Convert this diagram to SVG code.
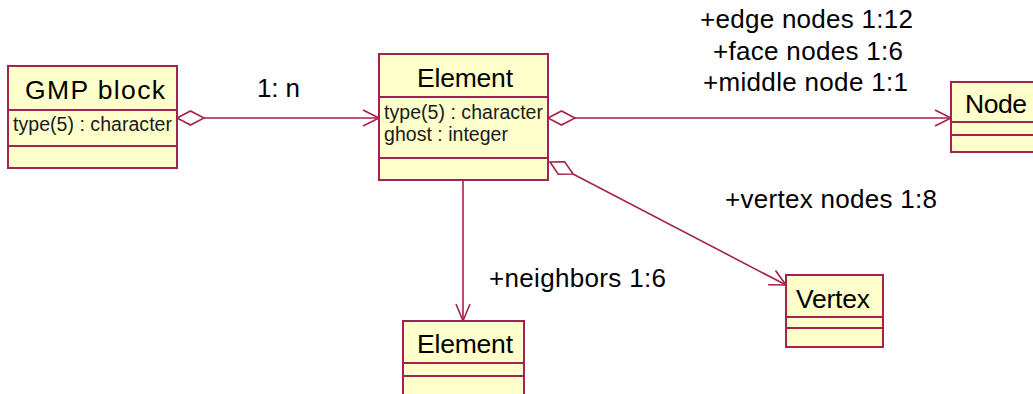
<svg xmlns="http://www.w3.org/2000/svg" width="1033" height="394" viewBox="0 0 1033 394">
  <style>
    .box { fill: #ffffcc; stroke: #a3224f; stroke-width: 2; }
    .div { stroke: #a3224f; stroke-width: 2; fill: none; }
    .conn { stroke: #a3224f; stroke-width: 1.6; fill: none; }
    .agg { stroke: #a3224f; stroke-width: 1.6; fill: #ffffff; }
    .title { font-family: "Liberation Sans", Arial, sans-serif; font-size: 26.5px; fill: #000; }
    .attr { font-family: "Liberation Sans", Arial, sans-serif; font-size: 19.5px; fill: #1a1a1a; }
    .lbl { font-family: "Liberation Sans", Arial, sans-serif; font-size: 26px; fill: #000; }
  </style>
  <rect width="1033" height="394" fill="#ffffff"/>

  <!-- connectors -->
  <g id="connectors">
    <!-- GMP block aggregates Element -->
    <line class="conn" x1="204" y1="118" x2="379" y2="118"/>
    <polygon class="agg" points="177,118 190.5,111 204,118 190.5,125"/>
    <polyline class="conn" points="363,110 379,118 363,126"/>
    <text class="lbl" x="257" y="97" textLength="43">1: n</text>

    <!-- Element aggregates Node -->
    <line class="conn" x1="575" y1="118" x2="951" y2="118"/>
    <polygon class="agg" points="548,118 561.5,111 575,118 561.5,125"/>
    <polyline class="conn" points="935,110 951,118 935,126"/>
    <text class="lbl" x="700" y="28" textLength="213">+edge nodes 1:12</text>
    <text class="lbl" x="713" y="60" textLength="190">+face nodes 1:6</text>
    <text class="lbl" x="703" y="91" textLength="205">+middle node 1:1</text>

    <!-- Element aggregates Vertex -->
    <line class="conn" x1="573" y1="174" x2="786" y2="285"/>
    <polygon class="agg" points="550,162 558.3,174.2 573.1,174 564.7,161.8"/>
    <polyline class="conn" points="775.5,270.5 786,285 768.1,284.7"/>
    <text class="lbl" x="725" y="208" textLength="212">+vertex nodes 1:8</text>

    <!-- Element neighbors -->
    <line class="conn" x1="463" y1="180" x2="463" y2="321"/>
    <polyline class="conn" points="456,304 463,321 470,304"/>
    <text class="lbl" x="489" y="287" textLength="177">+neighbors 1:6</text>
  </g>

  <!-- GMP block class -->
  <g id="gmp-block">
    <rect class="box" x="8" y="66" width="169" height="102"/>
    <line class="div" x1="8" y1="110" x2="177" y2="110"/>
    <line class="div" x1="8" y1="146" x2="177" y2="146"/>
    <text class="title" x="25" y="99" font-size="28" textLength="140">GMP block</text>
    <text class="attr" x="13" y="131" textLength="159">type(5) : character</text>
  </g>

  <!-- Element class -->
  <g id="element">
    <rect class="box" x="379" y="54" width="169" height="126"/>
    <line class="div" x1="379" y1="97" x2="548" y2="97"/>
    <line class="div" x1="379" y1="158" x2="548" y2="158"/>
    <text class="title" x="417" y="87" textLength="96">Element</text>
    <text class="attr" x="384" y="119" textLength="159">type(5) : character</text>
    <text class="attr" x="384" y="141" textLength="124">ghost : integer</text>
  </g>

  <!-- Node class -->
  <g id="node">
    <rect class="box" x="951" y="82" width="95" height="70"/>
    <line class="div" x1="951" y1="122" x2="1046" y2="122"/>
    <line class="div" x1="951" y1="135" x2="1046" y2="135"/>
    <text class="title" x="965" y="113" textLength="62">Node</text>
  </g>

  <!-- Element (neighbor) class -->
  <g id="element-neighbor">
    <rect class="box" x="403" y="321" width="121" height="80"/>
    <line class="div" x1="403" y1="363" x2="524" y2="363"/>
    <line class="div" x1="403" y1="376" x2="524" y2="376"/>
    <text class="title" x="417" y="353" textLength="96">Element</text>
  </g>

  <!-- Vertex class -->
  <g id="vertex">
    <rect class="box" x="786" y="275" width="97" height="72"/>
    <line class="div" x1="786" y1="317" x2="883" y2="317"/>
    <line class="div" x1="786" y1="328" x2="883" y2="328"/>
    <text class="title" x="796" y="308" textLength="74">Vertex</text>
  </g>
</svg>
